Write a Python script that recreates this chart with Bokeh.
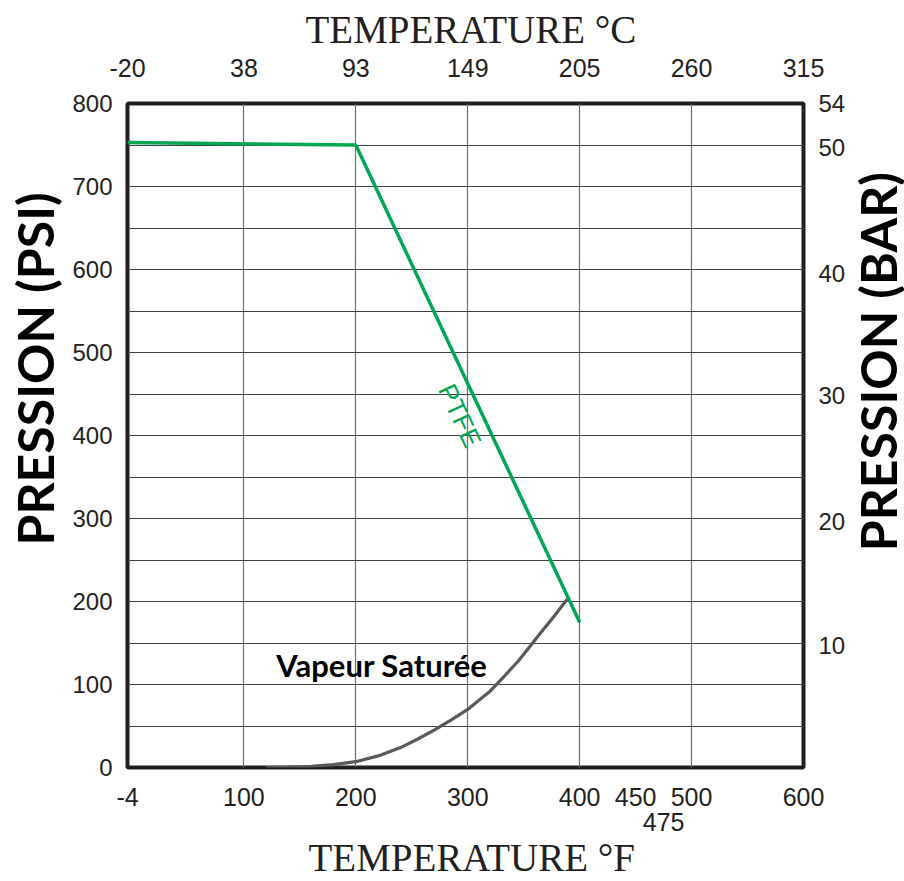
import math
from bokeh.plotting import figure
from bokeh.layouts import row
from bokeh.models import Range1d, LinearAxis, FixedTicker, Title
from bokeh.core.properties import value
from bokeh.embed import file_html
from bokeh.resources import INLINE

# ---- data ----
f_ticks = [-4, 100, 200, 300, 400, 450, 500, 600]
f_labels = ["-4", "100", "200", "300", "400", "450", "500", "600"]
f_extra_tick = [475]
f_extra_label = ["475"]
c_ticks_f = [-4, 100, 200, 300, 400, 500, 600]
c_labels = ["-20", "38", "93", "149", "205", "260", "315"]
psi_ticks = [0, 100, 200, 300, 400, 500, 600, 700, 800]
bar_ticks_psi = [147, 296, 448, 595, 747, 800]
bar_labels = ["10", "20", "30", "40", "50", "54"]
grid_psi = [50, 100, 150, 200, 250, 300, 350, 400, 450, 500, 550, 600, 650, 700, 750]
grid_f = [100, 200, 300, 400, 500]

ptfe_f = [-4, 200, 400]
ptfe_psi = [753, 750, 175]
steam_f = [120, 140, 160, 180, 200, 220, 240, 255, 270, 285, 300, 310, 320,
           332, 345, 355, 365, 377, 389]
steam_psi = [0, 0.5, 1.5, 3.5, 7, 14, 24, 34, 45, 57, 70, 81, 92,
             109, 128, 145, 162, 182, 203]

TXT = "#231f20"
TICKFONT = "Liberation Sans"

y_range = Range1d(0, 800)
p = figure(frame_width=676, frame_height=664, output_backend="svg", toolbar_location=None,
           x_range=Range1d(-4, 600), y_range=y_range,
           x_axis_location=None, y_axis_location=None,
           min_border_left=127, min_border_right=45, min_border_top=102, min_border_bottom=100)
p.background_fill_color = "white"
p.border_fill_color = "white"
p.outline_line_color = TXT
p.outline_line_width = 4

# grids
p.xgrid.ticker = FixedTicker(ticks=grid_f)
p.ygrid.ticker = FixedTicker(ticks=grid_psi)
p.xgrid.grid_line_color = "#6d6e71"
p.ygrid.grid_line_color = "#414042"
p.xgrid.grid_line_width = 1.2
p.ygrid.grid_line_width = 1.2


def style_axis(ax, standoff, size="25px"):
    ax.axis_line_color = None
    ax.major_tick_line_color = None
    ax.minor_tick_line_color = None
    ax.major_tick_out = 0
    ax.major_tick_in = 0
    ax.major_label_standoff = standoff
    ax.major_label_text_font = TICKFONT
    ax.major_label_text_font_size = size
    ax.major_label_text_color = TXT


# left: tick labels, then title
left = LinearAxis(ticker=FixedTicker(ticks=psi_ticks))
style_axis(left, 15, "24px")
p.add_layout(left, "left")
p.add_layout(Title(text="PRESSION (PSI)", align="left", offset=222, vertical_align="top",
                   standoff=5, text_font="Lato", text_font_style="bold",
                   text_font_size="50px", text_color="black"), "left")

# right: bar tick labels
right = LinearAxis(ticker=FixedTicker(ticks=bar_ticks_psi),
                   major_label_overrides={t: l for t, l in zip(bar_ticks_psi, bar_labels)})
style_axis(right, 15, "24px")
p.add_layout(right, "right")

# top: celsius tick labels, then title
top = LinearAxis(ticker=FixedTicker(ticks=c_ticks_f),
                 major_label_overrides={t: l for t, l in zip(c_ticks_f, c_labels)})
style_axis(top, 27)
p.add_layout(top, "above")
p.add_layout(Title(text="TEMPERATURE °C", align="left", offset=178, vertical_align="bottom",
                   standoff=10, text_font="Liberation Serif", text_font_style="normal",
                   text_font_size="39px", text_color=TXT), "above")

# bottom: fahrenheit tick labels, extra 475 row, then title
bottom = LinearAxis(ticker=FixedTicker(ticks=f_ticks),
                    major_label_overrides={t: l for t, l in zip(f_ticks, f_labels)})
style_axis(bottom, 20)
p.add_layout(bottom, "below")

bottom2 = LinearAxis(ticker=FixedTicker(ticks=f_extra_tick),
                     major_label_overrides={t: l for t, l in zip(f_extra_tick, f_extra_label)})
style_axis(bottom2, 4)
p.add_layout(bottom2, "below")
p.add_layout(Title(text="TEMPERATURE °F", align="left", offset=181, vertical_align="top",
                   standoff=4, text_font="Liberation Serif", text_font_style="normal",
                   text_font_size="39px", text_color=TXT), "below")

# curves
p.line(steam_f, steam_psi, line_color="#58595b", line_width=3.2)
p.line(ptfe_f, ptfe_psi, line_color="#00a651", line_width=3.5)

# annotations
p.text(x=[293], y=[424], text=["PTFE"], angle=-1.137, text_align="center",
       text_baseline="middle", text_font=value("Liberation Sans"),
       text_font_size="26px", text_color="#00a651")
p.text(x=[129], y=[123], text=["Vapeur Saturée"], text_align="left",
       text_baseline="middle", text_font=value("Lato"), text_font_style="bold",
       text_font_size="31px", text_color="black")

# right-hand title strip (reads bottom to top), shares the pressure scale
p2 = figure(frame_width=56, frame_height=664, output_backend="svg", toolbar_location=None,
            x_range=Range1d(0, 56), y_range=y_range,
            x_axis_location=None, y_axis_location=None,
            min_border_left=0, min_border_right=0, min_border_top=102, min_border_bottom=0)
p2.outline_line_color = None
p2.grid.visible = False
p2.background_fill_color = "white"
p2.border_fill_color = "white"
p2.text(x=[29], y=[489], text=["PRESSION (BAR)"], angle=math.pi / 2, text_align="center",
        text_baseline="middle", text_font=value("Lato"), text_font_style="bold",
        text_font_size="50px", text_color="black")

layout = row(p, p2, spacing=0)
open("out.html", "w").write(file_html(layout, INLINE))
